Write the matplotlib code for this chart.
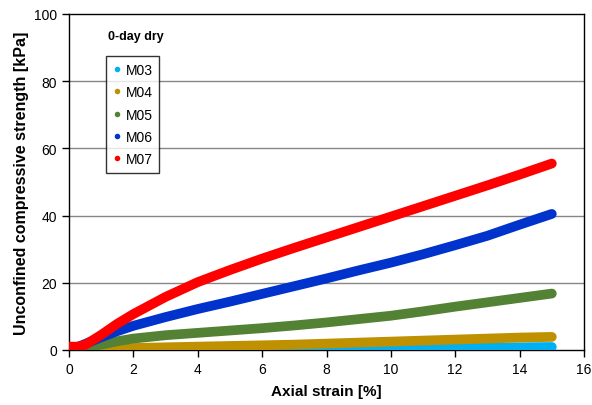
import matplotlib
matplotlib.use("Agg")
import matplotlib.pyplot as plt
from matplotlib.lines import Line2D

plt.rcParams['font.family'] = ['Liberation Sans', 'DejaVu Sans']

strain = [0, 0.25, 0.5, 1, 1.5, 2, 3, 4, 5, 6, 7, 8, 9, 10, 11, 12, 13, 14, 15]
m03 = [0, 0, 0, 0, 0, 0, 0, 0.05, 0.05, 0.1, 0.15, 0.2, 0.3, 0.4, 0.5, 0.6, 0.7, 0.8, 0.9]
m04 = [0, 0.05, 0.1, 0.3, 0.45, 0.6, 0.8, 1.0, 1.2, 1.4, 1.6, 1.9, 2.2, 2.5, 2.8, 3.1, 3.4, 3.7, 3.9]
m05 = [0, 0.2, 0.6, 1.6, 2.6, 3.4, 4.4, 5.1, 5.8, 6.5, 7.3, 8.2, 9.2, 10.2, 11.5, 12.9, 14.2, 15.5, 16.8]
m06 = [0.3, 0.8, 1.8, 3.8, 5.6, 7.2, 9.8, 12.2, 14.4, 16.7, 19.0, 21.3, 23.7, 26.0, 28.5, 31.2, 34.0, 37.3, 40.5]
m07 = [1.0, 1.0, 1.5, 4.5, 7.8, 10.7, 15.8, 20.2, 23.8, 27.2, 30.4, 33.5, 36.6, 39.7, 42.8, 45.9, 49.0, 52.2, 55.5]

series = [("M03", m03, "#00B0F0"), ("M04", m04, "#BF9000"), ("M05", m05, "#548235"),
          ("M06", m06, "#0033CC"), ("M07", m07, "#FF0000")]

fig = plt.figure(figsize=(5.92, 4.06), dpi=100)
ax = fig.add_axes([69/592, 1-351/406, (584-69)/592, (351-15)/406])

for name, vals, col in series:
    ax.plot(strain, vals, color=col, lw=7, solid_capstyle='round', solid_joinstyle='round', zorder=3)

ax.set_xlim(0, 16)
ax.set_ylim(0, 100)
ax.set_xticks(range(0, 17, 2))
ax.set_yticks(range(0, 101, 20))
for y in [20, 40, 60, 80]:
    ax.axhline(y, color='#868686', lw=1, zorder=1)
for s in ax.spines.values():
    s.set_color('black')
    s.set_linewidth(1)
ax.tick_params(direction='out', length=5, width=1, labelsize=10, colors='black')

ax.set_xlabel("Axial strain [%]", fontsize=11, fontweight='bold', labelpad=6)
ax.set_ylabel("Unconfined compressive strength [kPa]", fontsize=11.5, fontweight='bold', labelpad=4)

fig.text(108/592, 1-37/406, "0-day dry", fontsize=9, fontweight='bold', va='center', ha='left')

handles = [Line2D([], [], ls='none', marker='o', markersize=4, color=c, markeredgewidth=0) for _, _, c in series]
leg = ax.legend(handles, [n for n, _, _ in series], loc='upper left',
                bbox_to_anchor=(106/592, 1-57/406), bbox_transform=fig.transFigure,
                fontsize=10, frameon=True, fancybox=False, handlelength=0.6,
                handletextpad=0.3, labelspacing=0.6, borderpad=0.5, borderaxespad=0)
leg.get_frame().set_edgecolor('black')
leg.get_frame().set_linewidth(1)

fig.savefig("out.png", dpi=100)
